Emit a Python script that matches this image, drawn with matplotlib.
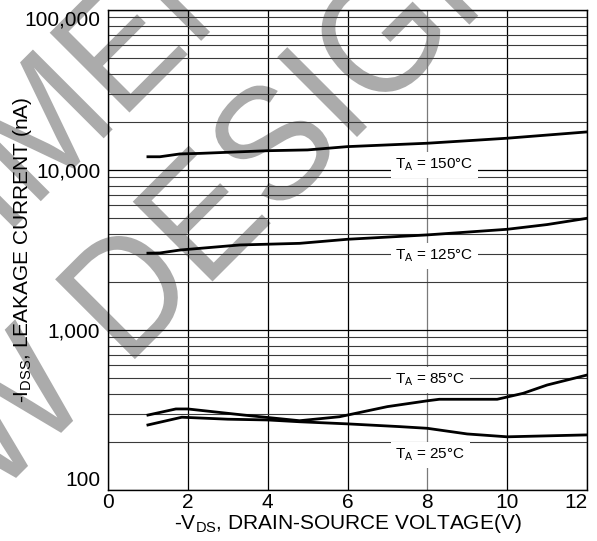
import numpy as np
import matplotlib
matplotlib.use('Agg')
import matplotlib.pyplot as plt
from matplotlib.ticker import LogLocator, NullFormatter
from matplotlib.textpath import TextPath
from matplotlib.patches import PathPatch
from matplotlib.font_manager import FontProperties
from matplotlib.transforms import Affine2D

plt.rcParams['font.family'] = ['Liberation Sans', 'DejaVu Sans']
plt.rcParams['mathtext.fontset'] = 'custom'
plt.rcParams['mathtext.rm'] = 'Liberation Sans'
plt.rcParams['mathtext.it'] = 'Liberation Sans:italic'
plt.rcParams['mathtext.bf'] = 'Liberation Sans:bold'

# ---- data ----
v_150 = [1.0, 1.3, 1.8, 2.3, 4.0, 5.0, 6.0, 8.0, 9.3, 10.0, 12.0]
i_150 = [12100, 12100, 12600, 12700, 13200, 13350, 14000, 14700, 15400, 15800, 17300]
v_125 = [1.0, 1.3, 1.8, 3.3, 4.8, 6.0, 8.0, 10.0, 11.0, 12.0]
i_125 = [3020, 3030, 3160, 3400, 3480, 3690, 3930, 4260, 4560, 4990]
v_85 = [1.0, 1.7, 2.0, 3.4, 4.8, 5.8, 6.0, 7.0, 8.0, 8.3, 9.75, 10.4, 11.0, 12.0]
i_85 = [294, 321, 321, 294, 271, 287, 294, 332, 361, 369, 369, 402, 453, 523]
v_25 = [1.0, 1.85, 3.0, 4.0, 4.8, 6.0, 7.3, 8.0, 9.0, 10.0, 12.0]
i_25 = [255, 285, 277, 274, 267, 259, 249, 243, 224, 215, 221]

curve_labels = ['T$_{\\mathrm{A}}$ = 150°C', 'T$_{\\mathrm{A}}$ = 125°C',
                'T$_{\\mathrm{A}}$ = 85°C', 'T$_{\\mathrm{A}}$ = 25°C']
label_y = [10740, 2900, 487, 166]
label_x = 7.2

x_ticks = [0, 2, 4, 6, 8, 10, 12]
y_ticks = [100, 1000, 10000, 100000]
y_ticklabels = ['100', '1,000', '10,000', '100,000']

x_title = '-V$_{\\mathrm{DS}}$, DRAIN-SOURCE VOLTAGE(V)'
y_title = '-I$_{\\mathrm{DSS}}$, LEAKAGE CURRENT (nA)'

W, H = 597, 541
fig = plt.figure(figsize=(W / 100, H / 100), dpi=100)
ax = fig.add_axes([108 / W, 1 - 490 / H, (587 - 108) / W, 480 / H])
ax.set_facecolor('none')

# ---- watermark (gray, rotated 45 degrees, behind the grid) ----
wm_color = '#ababab'
wm_prop = FontProperties(family='Liberation Sans')
SX, SY = 152.0, 164.0   # px per em along / across the baseline
c45 = np.sqrt(0.5)


def base_point(s, k):
    # point on a 45-degree baseline x+y=k (top-left pixel coords) at arc s
    d = s / c45
    return (k + d) / 2.0, (k - d) / 2.0


def wm(text, s0, k):
    tp = TextPath((0, 0), text, size=1, prop=wm_prop)
    px, py = base_point(s0, k)
    tr = Affine2D().scale(SX, SY).rotate_deg(45).translate(px, H - py)
    patch = PathPatch(tp, transform=tr, facecolor=wm_color, edgecolor='none',
                      lw=0, zorder=-5)
    fig.add_artist(patch)


def ink_right(text):
    return TextPath((0, 0), text, size=1, prop=wm_prop).get_extents().x1


# line 1: "...RECOMMENDED FOR" ; second E of RECOMMENDED origin
k1 = 242.0
e_origin = -0.5
wm('ENDED FOR', e_origin, k1)
wm('NOT RECOMM', e_origin - (ink_right('NOT RECOMM') + 0.074) * SX, k1)
# line 2: "NEW DESIGN"
k2 = 494.0
d_origin = -171.0
wm('DESIGN', d_origin, k2)
wm('NEW', d_origin - (ink_right('NEW') + 0.012 + 0.278) * SX, k2)

# ---- curves ----
for v, i in [(v_150, i_150), (v_125, i_125), (v_85, i_85), (v_25, i_25)]:
    ax.plot(v, i, color='black', lw=2.0, solid_joinstyle='round', zorder=3)

for txt, yv in zip(curve_labels, label_y):
    ax.text(label_x, yv, txt, fontsize=11, ha='left', va='center', zorder=4,
            bbox=dict(boxstyle='square,pad=0.3', fc='white', ec='none'))

ax.set_yscale('log')
ax.set_xlim(0, 12)
ax.set_ylim(100, 100000)
ax.set_xticks(x_ticks)
ax.set_xticklabels([str(t) for t in x_ticks])
ax.set_yticks(y_ticks)
ax.set_yticklabels(y_ticklabels)
ax.yaxis.set_minor_locator(LogLocator(base=10, subs=np.arange(2, 10)))
ax.yaxis.set_minor_formatter(NullFormatter())
ax.tick_params(which='both', length=0, labelsize=15)
ax.tick_params(axis='y', pad=5.5)
ax.tick_params(axis='x', pad=2.5)

ax.set_axisbelow(True)
ax.grid(which='major', axis='both', color='black', lw=0.9)
ax.grid(which='minor', axis='y', color='#3a3a3a', lw=0.8)
xgl = ax.xaxis.get_gridlines()
xgl[4].set_color('#7a7a7a')

yl = ax.get_yticklabels()
yl[0].set_va('bottom')
yl[-1].set_va('top')
xl = ax.get_xticklabels()
xl[-1].set_ha('right')

for s in ax.spines.values():
    s.set_color('black')
    s.set_linewidth(1.0)

ax.set_xlabel(x_title, fontsize=15)
ax.xaxis.set_label_coords(0.5, -0.045)
ax.xaxis.label.set_va('top')
ax.set_ylabel(y_title, fontsize=15)
ax.yaxis.set_label_coords(-0.155, 0.5)

fig.savefig('out.png', dpi=100)
